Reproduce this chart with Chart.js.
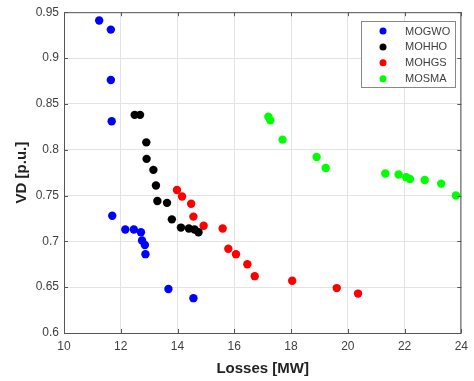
<!DOCTYPE html>
<html>
<head>
<meta charset="utf-8">
<script src="https://cdn.jsdelivr.net/npm/chart.js@4.4.1/dist/chart.umd.min.js"></script>
<style>
  html, body { margin: 0; padding: 0; background: #fff; }
  #wrap { width: 474px; height: 381px; }
</style>
</head>
<body>
<div id="wrap"><canvas id="chart" width="474" height="381"></canvas></div>
<script>
// Pareto fronts: losses [MW] vs voltage deviation [p.u.]
const mogwoLoss = [11.24, 11.65, 11.65, 11.68, 11.70, 12.16, 12.46, 12.71, 12.75, 12.85, 12.87, 13.68, 14.56];
const mogwoVD   = [0.941, 0.931, 0.876, 0.831, 0.728, 0.713, 0.713, 0.710, 0.701, 0.696, 0.686, 0.648, 0.638];

const mohhoLoss = [12.49, 12.68, 12.90, 12.91, 13.15, 13.24, 13.29, 13.63, 13.80, 14.12, 14.40, 14.60, 14.74];
const mohhoVD   = [0.838, 0.838, 0.808, 0.790, 0.778, 0.761, 0.744, 0.742, 0.724, 0.715, 0.714, 0.713, 0.710];

const mohgsLoss = [13.98, 14.16, 14.48, 14.56, 14.92, 15.59, 15.79, 16.06, 16.46, 16.72, 18.04, 19.61, 20.36];
const mohgsVD   = [0.756, 0.749, 0.741, 0.727, 0.717, 0.714, 0.692, 0.686, 0.675, 0.662, 0.657, 0.649, 0.643];

const mosmaLoss = [17.20, 17.27, 17.70, 18.90, 19.22, 21.32, 21.79, 22.06, 22.19, 22.71, 23.29, 23.81];
const mosmaVD   = [0.836, 0.832, 0.811, 0.792, 0.780, 0.774, 0.773, 0.770, 0.768, 0.767, 0.763, 0.750];

const seriesNames = ['MOGWO', 'MOHHO', 'MOHGS', 'MOSMA'];
const seriesColors = ['#0000ff', '#000000', '#ff0000', '#00ff00'];

const xTicks = [10, 12, 14, 16, 18, 20, 22, 24];
const yTicks = [0.6, 0.65, 0.7, 0.75, 0.8, 0.85, 0.9, 0.95];

const pts = (xs, ys) => xs.map((x, i) => ({ x, y: ys[i] }));
const allSeries = [pts(mogwoLoss, mogwoVD), pts(mohhoLoss, mohhoVD), pts(mohgsLoss, mohgsVD), pts(mosmaLoss, mosmaVD)];

const axisColor = '#555';
const textColor = '#404040';
const fontFam = 'Arial, "Liberation Sans", sans-serif';

// box around the axes with inward ticks on all four sides
const boxPlugin = {
  id: 'box',
  afterDraw(chart) {
    const { ctx, chartArea: a, scales } = chart;
    ctx.save();
    ctx.strokeStyle = axisColor;
    ctx.lineWidth = 1;
    ctx.strokeRect(a.left + 0.5, a.top + 0.5, a.right - a.left - 1, a.bottom - a.top);
    ctx.beginPath();
    xTicks.forEach(v => {
      const px = Math.round(scales.x.getPixelForValue(v)) + 0.5;
      ctx.moveTo(px, a.bottom); ctx.lineTo(px, a.bottom - 4);
      ctx.moveTo(px, a.top); ctx.lineTo(px, a.top + 4);
    });
    yTicks.forEach(v => {
      const py = Math.round(scales.y.getPixelForValue(v)) + 0.5;
      ctx.moveTo(a.left, py); ctx.lineTo(a.left + 4, py);
      ctx.moveTo(a.right, py); ctx.lineTo(a.right - 4, py);
    });
    ctx.stroke();
    ctx.restore();
  }
};

// legend box inside the axes, upper right
const legendBox = {
  id: 'legendBox',
  afterDraw(chart) {
    const ctx = chart.ctx;
    const x0 = 361, y0 = 21, w = 94, h = 66;
    ctx.save();
    ctx.fillStyle = '#fff';
    ctx.fillRect(x0, y0, w, h);
    ctx.strokeStyle = '#888';
    ctx.lineWidth = 1;
    ctx.strokeRect(x0 + 0.5, y0 + 0.5, w, h);
    ctx.font = '11px ' + fontFam;
    ctx.textBaseline = 'middle';
    chart.data.datasets.forEach((ds, i) => {
      const cy = y0 + 10 + i * 15.9;
      ctx.fillStyle = ds.backgroundColor;
      ctx.beginPath();
      ctx.arc(383, cy, 3.5, 0, Math.PI * 2);
      ctx.fill();
      ctx.fillStyle = textColor;
      ctx.fillText(ds.label, 405, cy + 0.5);
    });
    ctx.restore();
  }
};

new Chart(document.getElementById('chart'), {
  type: 'scatter',
  data: {
    datasets: allSeries.map((d, i) => ({
      label: seriesNames[i],
      data: d,
      backgroundColor: seriesColors[i],
      borderColor: seriesColors[i],
      borderWidth: 0,
      pointRadius: 4.2,
      pointHoverRadius: 4.2
    }))
  },
  options: {
    responsive: false,
    animation: false,
    layout: { padding: { top: 11, right: 11, left: 0, bottom: 0 } },
    plugins: { legend: { display: false }, tooltip: { enabled: false } },
    scales: {
      x: {
        type: 'linear', min: 10, max: 24,
        afterBuildTicks: s => { s.ticks = xTicks.map(v => ({ value: v })); },
        afterFit: s => { s.height = 48; },
        grid: { color: '#e3e3e3', drawTicks: false },
        border: { display: false },
        ticks: { color: textColor, padding: 6, font: { size: 12, family: fontFam }, maxRotation: 0 },
        title: { display: true, text: 'Losses [MW]', color: '#222', padding: { top: 0, bottom: 3 },
                 font: { size: 15, weight: 'bold', family: fontFam } }
      },
      y: {
        type: 'linear', min: 0.6, max: 0.95,
        afterBuildTicks: s => { s.ticks = yTicks.map(v => ({ value: v })); },
        afterFit: s => { s.width = 64; },
        grid: { color: '#e3e3e3', drawTicks: false },
        border: { display: false },
        ticks: { color: textColor, padding: 5, font: { size: 12, family: fontFam },
                 callback: v => String(Number(v.toFixed(2))) },
        title: { display: true, text: 'VD [p.u.]', color: '#222', padding: { top: 13, bottom: 0 },
                 font: { size: 15, weight: 'bold', family: fontFam } }
      }
    }
  },
  plugins: [boxPlugin, legendBox]
});
</script>
</body>
</html>
